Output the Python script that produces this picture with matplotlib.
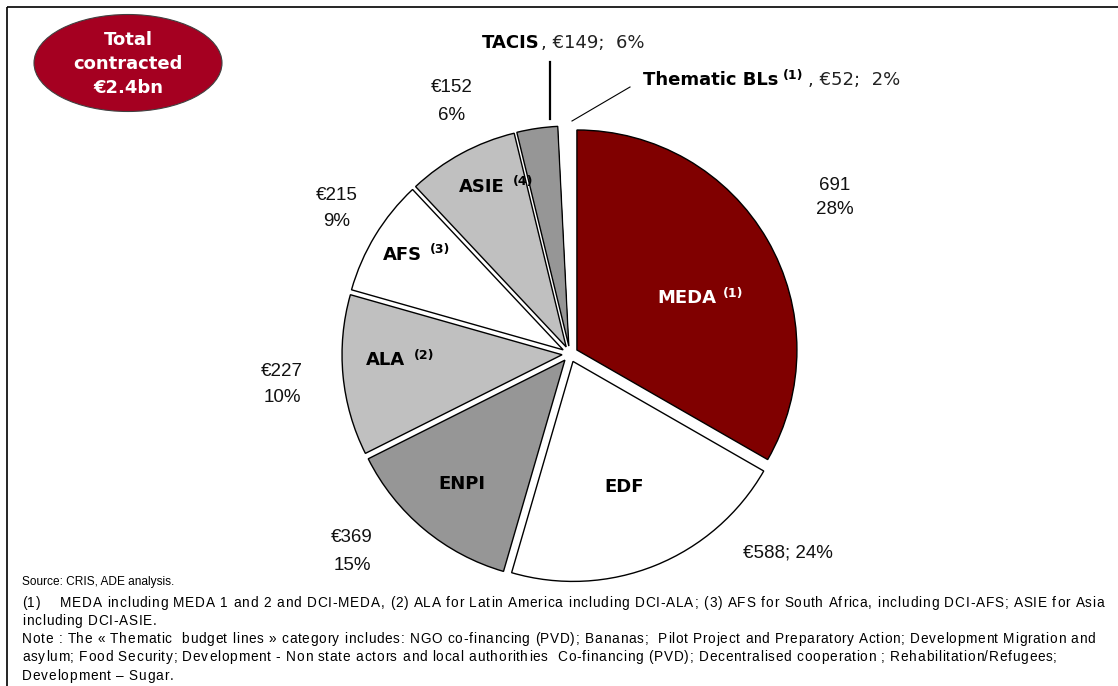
import matplotlib
matplotlib.use("Agg")
import matplotlib.pyplot as plt
from matplotlib.patches import Ellipse
from matplotlib.font_manager import FontProperties

W, H = 1118, 686

# ---- data ----
categories = ["MEDA", "EDF", "ENPI", "ALA", "AFS", "ASIE", "TACIS", "Thematic BLs"]
# slice shares as drawn in the picture (percent of the circle)
slice_shares = [33.3, 21.2, 13.1, 11.8, 8.6, 8.2, 3.0, 0.8]
amounts = [691, 588, 369, 227, 215, 152, 149, 52]
percents = [28, 24, 15, 10, 9, 6, 6, 2]
footnotes = ["(1)", "", "", "(2)", "(3)", "(4)", "", "(1)"]
colors = ["#800000", "#FFFFFF", "#969696", "#C0C0C0", "#FFFFFF", "#C0C0C0", "#969696", "#FFFFFF"]

total_text = "Total\ncontracted\n€2.4bn"
source_line = "Source: CRIS, ADE analysis."
note_lines = [
    "(1)    MEDA including MEDA 1 and 2 and DCI-MEDA, (2) ALA for Latin America including DCI-ALA; (3) AFS for South Africa, including DCI-AFS; ASIE for Asia",
    "including DCI-ASIE.",
    "Note : The « Thematic  budget lines » category includes: NGO co-financing (PVD); Bananas;  Pilot Project and Preparatory Action; Development Migration and",
    "asylum; Food Security; Development - Non state actors and local authorithies  Co-financing (PVD); Decentralised cooperation ; Rehabilitation/Refugees;",
    "Development – Sugar.",
]
note_right = [1104, None, 1095, 1057, None]

fig = plt.figure(figsize=(W / 100, H / 100), dpi=100)
ax = fig.add_axes([0, 0, 1, 1])

def Y(y):
    return H - y

cx, cy, R = 570, 354, 220
wedges, _ = ax.pie(slice_shares, colors=colors, startangle=90, counterclock=False,
                   center=(cx, Y(cy)), radius=R, explode=[8] * len(slice_shares),
                   wedgeprops=dict(edgecolor="black", linewidth=1.0))
wedges[-1].set_edgecolor("none")
ax.set_xlim(0, W)
ax.set_ylim(0, H)
ax.set_aspect("equal")
ax.axis("off")

# frame lines (top and left)
ax.plot([7, W], [Y(7), Y(7)], color="black", lw=1.2, solid_capstyle="butt")
ax.plot([7, 7], [Y(7), 0], color="black", lw=1.2, solid_capstyle="butt")

# total ellipse
ax.add_patch(Ellipse((128, Y(63)), 188, 97, facecolor="#A50021", edgecolor="#404040", lw=0.8))
ax.text(128, Y(64), total_text, ha="center", va="center", color="white",
        fontsize=13, fontweight="bold", family="DejaVu Sans", linespacing=1.4)

BOLD = dict(family="DejaVu Sans", fontweight="bold", fontsize=13)
SUP = dict(family="DejaVu Sans", fontweight="bold", fontsize=9)
NUM = dict(family="Liberation Sans", fontsize=13.5, color="#111111")

inner_pos = {"MEDA": (687, 298), "EDF": (624, 487), "ENPI": (462, 484),
             "ALA": (385, 360), "AFS": (402, 255), "ASIE": (482, 187)}
sup_dx = {"MEDA": 46, "ALA": 39, "AFS": 38, "ASIE": 41}
for i, name in enumerate(categories):
    if name not in inner_pos:
        continue
    x, y = inner_pos[name]
    col = "white" if i == 0 else "black"
    ax.text(x, Y(y), name, ha="center", va="center", color=col, **BOLD)
    if footnotes[i]:
        ax.text(x + sup_dx[name], Y(y - 5), footnotes[i], ha="center", va="center",
                color=col, **SUP)

outer_pos = {"MEDA": (835, 185, 210, ""), "ASIE": (452, 88, 115, "€"),
             "AFS": (337, 196, 222, "€"), "ALA": (282, 372, 398, "€"),
             "ENPI": (352, 538, 565, "€")}
for i, name in enumerate(categories):
    if name in outer_pos:
        x, y1, y2, cur = outer_pos[name]
        ax.text(x, Y(y1), f"{cur}{amounts[i]}", ha="center", va="center", **NUM)
        ax.text(x, Y(y2), f"{percents[i]}%", ha="center", va="center", **NUM)
edf = categories.index("EDF")
ax.text(788, Y(553), f"€{amounts[edf]}; {percents[edf]}%", ha="center", va="center", **NUM)

fig.canvas.draw()
r = fig.canvas.get_renderer()
inv = ax.transData.inverted()

def right_edge(t):
    bb = t.get_window_extent(renderer=r)
    return inv.transform((bb.x1, bb.y0))[0]

REG = dict(family="DejaVu Sans", fontsize=13, color="#222222")
tc = categories.index("TACIS")
t1 = ax.text(482, Y(43), "TACIS", ha="left", va="center", **BOLD)
x1 = right_edge(t1)
ax.text(x1 + 1, Y(43), f", €{amounts[tc]};  {percents[tc]}%", ha="left", va="center", **REG)
ax.plot([550, 550], [Y(62), Y(119)], color="black", lw=1.6)

th = categories.index("Thematic BLs")
t2 = ax.text(643, Y(80), "Thematic BLs", ha="left", va="center", **BOLD)
x2 = right_edge(t2)
t3 = ax.text(x2 + 4, Y(76), footnotes[th], ha="left", va="center", **SUP)
x3 = right_edge(t3)
ax.text(x3 + 5, Y(80), f", €{amounts[th]};  {percents[th]}%", ha="left", va="center", **REG)
ax.plot([630, 572], [Y(87), Y(121)], color="black", lw=0.8)

# footer
ax.text(22, Y(582), source_line, ha="left", va="center", family="Liberation Sans",
        fontsize=8.6, color="black")

fp = FontProperties(family="Liberation Sans", size=9.8)
w_bar = r.get_text_width_height_descent("|", fp, ismath=False)[0]
def adv(s):
    return r.get_text_width_height_descent(s + "|", fp, ismath=False)[0] - w_bar

line_y = [603, 621, 639, 657, 676]
tracks = []
for txt, tgt in zip(note_lines, note_right):
    if tgt is not None:
        tracks.append((tgt - 22 - adv(txt)) / (len(txt) - 1))
t_mean = sum(tracks) / len(tracks)
for txt, tgt, yy in zip(note_lines, note_right, line_y):
    t = (tgt - 22 - adv(txt)) / (len(txt) - 1) if tgt is not None else t_mean
    for i, ch in enumerate(txt):
        if ch == " ":
            continue
        x = 22 + adv(txt[:i]) + i * t
        ax.text(x, Y(yy), ch, ha="left", va="center", fontproperties=fp, color="black")

fig.savefig("out.png", dpi=100)
